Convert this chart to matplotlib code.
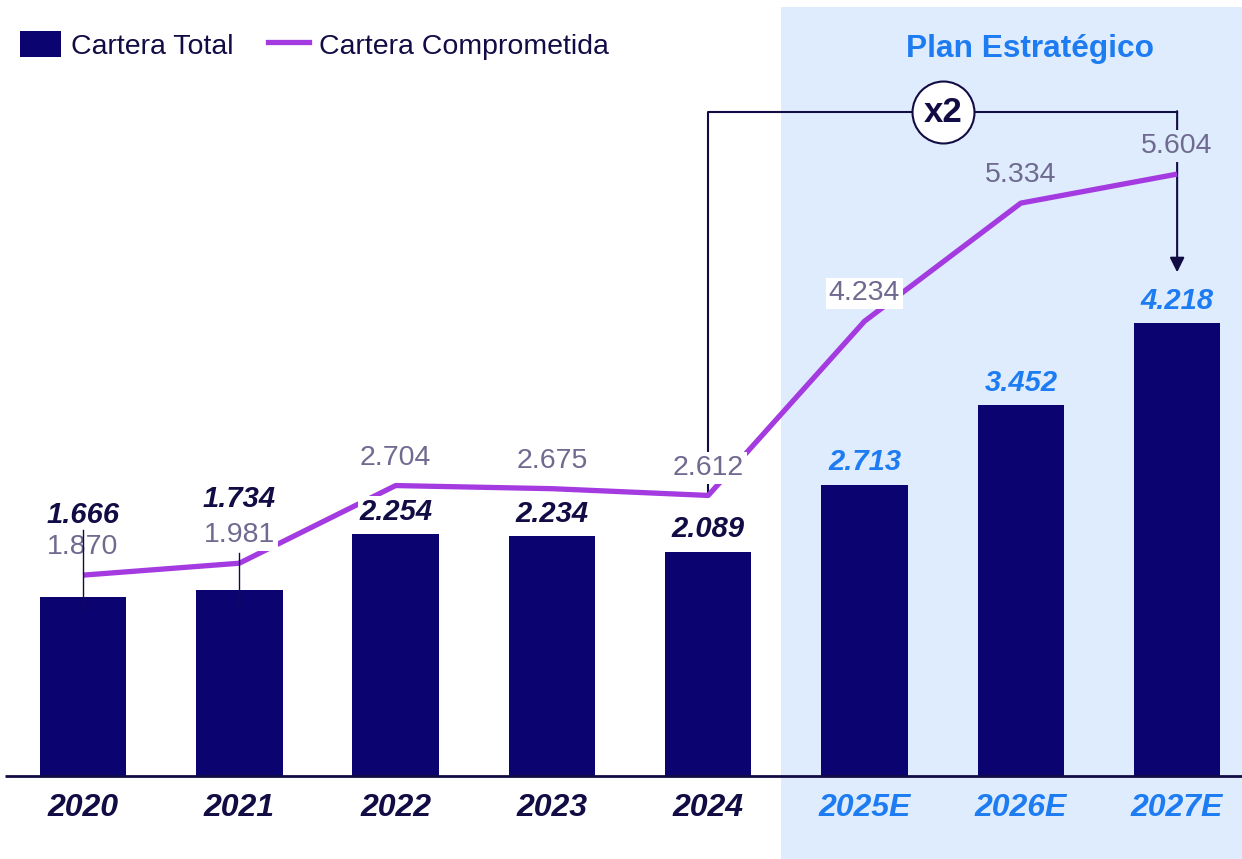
import matplotlib
matplotlib.use('Agg')
import matplotlib.pyplot as plt
from matplotlib import font_manager
from matplotlib.patches import Patch
from matplotlib.lines import Line2D

years = ['2020', '2021', '2022', '2023', '2024', '2025E', '2026E', '2027E']
cartera_total = [1.666, 1.734, 2.254, 2.234, 2.089, 2.713, 3.452, 4.218]
cartera_comprometida = [1.870, 1.981, 2.704, 2.675, 2.612, 4.234, 5.334, 5.604]
total_labels = ['1.666', '1.734', '2.254', '2.234', '2.089', '2.713', '3.452', '4.218']
compr_labels = ['1.870', '1.981', '2.704', '2.675', '2.612', '4.234', '5.334', '5.604']
n_hist = 5  # años reales, el resto es plan

navy = '#0B0470'
dark = '#120C45'
blue = '#1E7CF2'
purple = '#A43BE0'
gray = '#6F6A90'
shade = '#DFECFD'

names = {f.name for f in font_manager.fontManager.ttflist}
base_font = 'Liberation Sans' if 'Liberation Sans' in names else 'DejaVu Sans'
narrow_font = 'Liberation Sans Narrow' if 'Liberation Sans Narrow' in names else base_font
year_size = 25 if narrow_font != base_font else 23
plt.rcParams['font.family'] = [base_font, 'DejaVu Sans']

fig = plt.figure(figsize=(12.42, 8.59), dpi=100)
ax = fig.add_axes([0, 0, 1, 1])
ax.set_xlim(-0.531, 7.415)
ax.set_ylim(-0.773, 7.225)
ax.axis('off')

x = list(range(len(years)))

# zona del plan estratégico
ax.fill_between([4.466, 7.415], -0.773, 7.16, color=shade, zorder=0, lw=0)
ax.hlines(0, -0.50, 7.415, color=dark, lw=2, zorder=3)

ax.bar(x, cartera_total, width=0.553, color=navy, zorder=2)
ax.plot(x, cartera_comprometida, color=purple, lw=3.8, zorder=4, solid_capstyle='butt')

# líneas guía 2020 / 2021
ax.plot([0, 0], [1.53, 2.29], color=dark, lw=1, zorder=9)
ax.plot([1, 1], [1.59, 2.08], color=dark, lw=1, zorder=9)

# llave x2
ax.plot([4, 4, 7], [2.64, 6.18, 6.18], color=dark, lw=1.5, zorder=3)
ax.annotate('', xy=(7, 4.69), xytext=(7, 6.19),
            arrowprops=dict(arrowstyle='-|>', color=dark, lw=1.5, mutation_scale=22,
                            shrinkA=0, shrinkB=0), zorder=3)
ax.scatter([5.50], [6.18], s=1990, facecolor='white', edgecolor=dark, lw=1.5, zorder=6)
ax.text(5.50, 6.18, 'x2', ha='center', va='center', fontsize=25, fontweight='bold',
        color=dark, zorder=7)

bar_offsets = [59, 65, 16, 16, 16, 16, 16, 16]
for i in x:
    bg = 'white' if i < n_hist else shade
    col = dark if i < n_hist else blue
    ax.annotate(total_labels[i], (i, cartera_total[i]), xytext=(0, bar_offsets[i]),
                textcoords='offset points', ha='center', va='center', fontsize=21,
                fontweight='bold', fontstyle='italic', color=col, zorder=8,
                bbox=dict(boxstyle='square,pad=0.05', fc=bg, ec='none'))
    ax.annotate(compr_labels[i], (i, cartera_comprometida[i]), xytext=(0, 20),
                textcoords='offset points', ha='center', va='center', fontsize=20.5,
                color=gray, zorder=8,
                bbox=dict(boxstyle='square,pad=0.1', fc=bg if i != 5 else 'white', ec='none'))
    ax.text(i, -0.30, years[i], ha='center', va='center', fontsize=year_size,
            fontweight='bold', fontstyle='italic', color=col, family=[narrow_font, 'DejaVu Sans'])

ax.text(6.06, 6.77, 'Plan Estratégico', ha='center', va='center', fontsize=22.8,
        fontweight='bold', color=blue)

handles = [Patch(facecolor=navy, edgecolor='none'),
           Line2D([0], [0], color=purple, lw=3.8)]
ax.legend(handles, ['Cartera Total', 'Cartera Comprometida'], loc='upper left',
          bbox_to_anchor=(20 / 1242, 1 - 31 / 859), ncol=2, frameon=False, fontsize=20.5,
          handlelength=1.44, handleheight=1.04, handletextpad=0.36, columnspacing=1.2,
          borderpad=0, borderaxespad=0, labelcolor=dark)

fig.savefig('out.png', dpi=100)
